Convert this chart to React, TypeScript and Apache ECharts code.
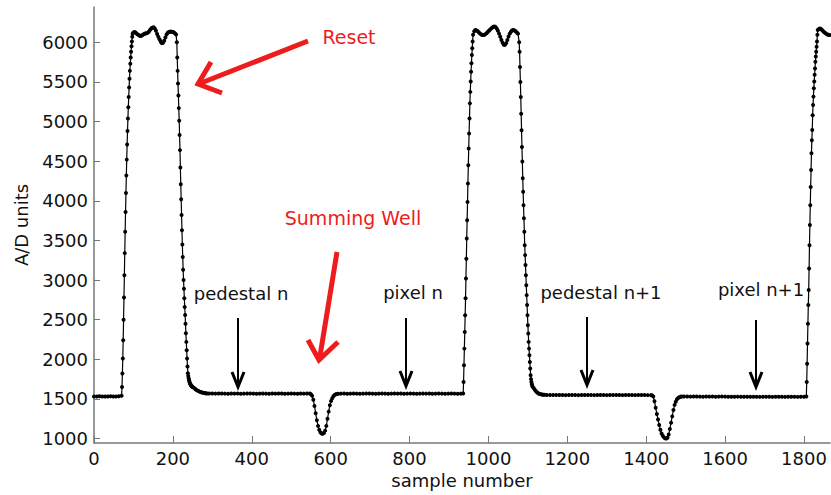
import React, { useEffect, useRef } from "react";
import * as echarts from "echarts";

// ---- axes ----
const xTicks = [0, 200, 400, 600, 800, 1000, 1200, 1400, 1600, 1800];
const yTicks = [1000, 1500, 2000, 2500, 3000, 3500, 4000, 4500, 5000, 5500, 6000];
const xRange = [0, 1866];
const yRange = [944, 6446];
const xName = "sample number";
const yName = "A/D units";

// ---- waveform readings: each segment starts at sample `from`, readings every `step` samples ----
const baselineStart = { from: 0, step: 7, values: [1532, 1530, 1533, 1531, 1530, 1532, 1534, 1531, 1530, 1533] };
const reset1Rise = {
  from: 70, step: 1,
  values: [1540, 1650, 1820, 2010, 2240, 2500, 2780, 3060, 3340, 3610, 3860, 4100, 4320, 4520, 4710, 4880, 5040, 5180, 5310, 5430, 5540, 5640, 5730, 5810, 5880, 5950, 6010, 6070, 6110],
};
const reset1Top = {
  from: 100, step: 3,
  values: [6125, 6130, 6120, 6105, 6095, 6085, 6080, 6085, 6095, 6105, 6112, 6115, 6120, 6135, 6155, 6175, 6185, 6190, 6175, 6145, 6105, 6070, 6040, 6010, 5990, 5995, 6020, 6060, 6100, 6120, 6130, 6135, 6135, 6130, 6128, 6115, 6100],
};
const reset1Fall = {
  from: 210, step: 1,
  values: [6000, 5810, 5640, 5480, 5330, 5170, 5010, 4830, 4640, 4420, 4210, 4020, 3820, 3630, 3450, 3290, 3130, 3000, 2890, 2770, 2660, 2560, 2450, 2330, 2220, 2115, 2010, 1910, 1825, 1790, 1760, 1735, 1715, 1700, 1690, 1680, 1672, 1665, 1660, 1655, 1650],
};
const reset1Tail = { from: 253, step: 3, values: [1640, 1628, 1617, 1607, 1599, 1592, 1586, 1581, 1577, 1574, 1572, 1570] };
const pedestalN = {
  from: 292, step: 8,
  values: [1569, 1568, 1567, 1568, 1569, 1567, 1566, 1568, 1567, 1568, 1566, 1567, 1568, 1569, 1567, 1566, 1567, 1568, 1567, 1566, 1568, 1567, 1569, 1568, 1566, 1567, 1568, 1567, 1566, 1568, 1567, 1568],
};
const summingWell1 = {
  from: 547, step: 3,
  values: [1568, 1560, 1540, 1490, 1410, 1320, 1230, 1160, 1110, 1080, 1065, 1060, 1070, 1100, 1160, 1250, 1340, 1420, 1475, 1510, 1535, 1550, 1558, 1563, 1566],
};
const pixelN = {
  from: 626, step: 8,
  values: [1567, 1568, 1566, 1567, 1568, 1567, 1566, 1567, 1568, 1569, 1567, 1566, 1567, 1568, 1567, 1566, 1567, 1568, 1567, 1568, 1566, 1567, 1568, 1567, 1566, 1567, 1568, 1567, 1568, 1566, 1567, 1568, 1567, 1566, 1567, 1568, 1567, 1566, 1567],
};
const reset2Rise = {
  from: 936, step: 1,
  values: [1568, 1715, 1925, 2135, 2345, 2555, 2770, 3020, 3270, 3525, 3755, 3985, 4220, 4450, 4660, 4850, 5040, 5230, 5375, 5505, 5630, 5735, 5840, 5925, 6010, 6095],
};
const reset2Top = {
  from: 964, step: 3,
  values: [6140, 6155, 6150, 6140, 6125, 6110, 6100, 6093, 6092, 6098, 6110, 6125, 6140, 6155, 6170, 6185, 6195, 6200, 6195, 6175, 6145, 6110, 6070, 6030, 5995, 5970, 5970, 5990, 6030, 6075, 6110, 6135, 6150, 6155, 6150, 6140, 6125, 6110],
};
const reset2Fall = {
  from: 1078, step: 1,
  values: [6000, 5880, 5690, 5500, 5310, 5100, 4890, 4680, 4495, 4285, 4115, 3945, 3780, 3610, 3440, 3315, 3190, 3060, 2935, 2810, 2685, 2555, 2430, 2325, 2220, 2135, 2050, 1965, 1885, 1800, 1750, 1715, 1690, 1670, 1655],
};
const reset2Tail = { from: 1115, step: 3, values: [1635, 1612, 1594, 1580, 1570, 1563, 1558, 1555, 1553, 1552] };
const pedestalN1 = {
  from: 1148, step: 8,
  values: [1551, 1550, 1549, 1550, 1551, 1549, 1548, 1550, 1549, 1550, 1548, 1549, 1550, 1551, 1549, 1548, 1549, 1550, 1549, 1548, 1550, 1549, 1550, 1549, 1548, 1549, 1550, 1549, 1548, 1549, 1550, 1549, 1548],
};
const summingWell2 = {
  from: 1412, step: 3,
  values: [1548, 1545, 1530, 1470, 1390, 1310, 1240, 1170, 1110, 1065, 1035, 1015, 1005, 1000, 1010, 1050, 1120, 1200, 1280, 1360, 1425, 1465, 1495, 1512, 1522, 1527, 1530],
};
const pixelN1 = {
  from: 1496, step: 8,
  values: [1530, 1531, 1529, 1530, 1531, 1529, 1528, 1530, 1529, 1530, 1528, 1529, 1530, 1529, 1528, 1527, 1528, 1529, 1528, 1527, 1528, 1527, 1528, 1527, 1526, 1527, 1528, 1527, 1526, 1527, 1528, 1527, 1526, 1527, 1528, 1527, 1526, 1527, 1528],
};
const reset3Rise = {
  from: 1806, step: 1,
  values: [1530, 1715, 1945, 2200, 2450, 2685, 2875, 3145, 3440, 3695, 3945, 4175, 4390, 4600, 4765, 4895, 5080, 5210, 5315, 5420, 5505, 5590, 5670, 5755, 5820, 5880, 5945, 6010, 6095, 6155],
};
const reset3Top = { from: 1838, step: 3, values: [6170, 6175, 6165, 6150, 6135, 6120, 6110, 6100, 6095, 6093] };

const segments = [
  baselineStart, reset1Rise, reset1Top, reset1Fall, reset1Tail, pedestalN, summingWell1, pixelN,
  reset2Rise, reset2Top, reset2Fall, reset2Tail, pedestalN1, summingWell2, pixelN1, reset3Rise, reset3Top,
];

// ---- annotation texts ----
const redLabels = ["Reset", "Summing Well"];
const blackLabels = ["pedestal n", "pixel n", "pedestal n+1", "pixel n+1"];

const RED = "#ee1c1c";
const FONT = "'DejaVu Sans', Verdana, sans-serif";

function blackArrow(x: number, top: number, tip: number) {
  return [
    { type: "line", shape: { x1: x, y1: top, x2: x, y2: tip - 3 }, style: { stroke: "#000", lineWidth: 2 } },
    {
      type: "polyline",
      shape: { points: [[x - 6, tip - 15], [x, tip], [x + 6, tip - 15]] },
      style: { stroke: "#000", lineWidth: 3, fill: null, lineJoin: "miter" },
    },
  ];
}

export default function App() {
  const ref = useRef<HTMLDivElement>(null);
  useEffect(() => {
    if (!ref.current) return;
    const chart = echarts.init(ref.current, null, { renderer: "svg" });
    const data: number[][] = [];
    segments.forEach((s) => s.values.forEach((v, i) => data.push([s.from + i * s.step, v])));

    const blackPos = [
      { x: 241, y: 293, ax: 238, top: 318, tip: 387 },
      { x: 413, y: 292, ax: 406, top: 318, tip: 386 },
      { x: 601, y: 292, ax: 587, top: 317, tip: 385 },
      { x: 761, y: 289, ax: 756, top: 320, tip: 387 },
    ];

    const graphic: any[] = [];
    blackLabels.forEach((t, i) => {
      const p = blackPos[i];
      graphic.push({
        type: "text", x: p.x, y: p.y,
        style: { text: t, fill: "#111", fontSize: 18, fontFamily: FONT, align: "center", verticalAlign: "middle" },
      });
      graphic.push(...blackArrow(p.ax, p.top, p.tip));
    });
    graphic.push({
      type: "text", x: 349, y: 37,
      style: { text: redLabels[0], fill: RED, fontSize: 19, fontFamily: FONT, align: "center", verticalAlign: "middle" },
    });
    graphic.push({
      type: "text", x: 353, y: 218,
      style: { text: redLabels[1], fill: RED, fontSize: 19, fontFamily: FONT, align: "center", verticalAlign: "middle" },
    });
    // Reset arrow
    graphic.push({ type: "line", shape: { x1: 308, y1: 41, x2: 201, y2: 83 }, style: { stroke: RED, lineWidth: 5 } });
    graphic.push({
      type: "polyline", shape: { points: [[211, 62], [198, 84], [222, 93]] },
      style: { stroke: RED, lineWidth: 5, fill: null, lineJoin: "miter" },
    });
    // Summing well arrow
    graphic.push({ type: "line", shape: { x1: 337, y1: 252, x2: 320, y2: 356 }, style: { stroke: RED, lineWidth: 5 } });
    graphic.push({
      type: "polyline", shape: { points: [[308, 340], [319, 360], [338, 342]] },
      style: { stroke: RED, lineWidth: 5, fill: null, lineJoin: "miter" },
    });

    const plain = (v: number) => String(v);

    chart.setOption({
      animation: false,
      backgroundColor: "#fff",
      grid: { left: 94, right: 1, top: 7, bottom: 52, containLabel: false },
      xAxis: {
        type: "value",
        min: xRange[0],
        max: xRange[1],
        name: xName,
        nameLocation: "middle",
        nameGap: 28,
        nameTextStyle: { fontSize: 18, fontFamily: FONT, color: "#111" },
        axisLine: { lineStyle: { color: "#777", width: 1.5 } },
        axisTick: { inside: true, length: 7, customValues: xTicks, lineStyle: { color: "#777" } },
        axisLabel: { customValues: xTicks, formatter: plain, fontSize: 18, fontFamily: FONT, color: "#111", margin: 6 },
        splitLine: { show: false },
      },
      yAxis: {
        type: "value",
        min: yRange[0],
        max: yRange[1],
        name: yName,
        nameLocation: "middle",
        nameGap: 64,
        nameTextStyle: { fontSize: 18, fontFamily: FONT, color: "#111" },
        axisLine: { show: true, lineStyle: { color: "#777", width: 1.5 } },
        axisTick: { show: true, inside: true, length: 6, customValues: yTicks, lineStyle: { color: "#777" } },
        axisLabel: { customValues: yTicks, formatter: plain, fontSize: 18, fontFamily: FONT, color: "#111", margin: 6 },
        splitLine: { show: false },
      },
      series: [
        {
          type: "line",
          data,
          showSymbol: true,
          showAllSymbol: true,
          symbol: "circle",
          symbolSize: 4,
          lineStyle: { color: "#000", width: 1.2 },
          itemStyle: { color: "#000" },
          silent: true,
        },
      ],
      graphic,
    });
    return () => chart.dispose();
  }, []);
  return <div ref={ref} style={{ position: "absolute", left: 0, top: 0, width: 831, height: 495 }} />;
}
